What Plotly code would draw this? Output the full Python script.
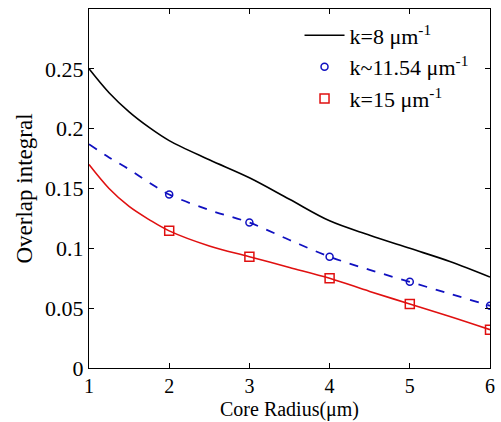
import plotly.graph_objects as go

# curve samples
x_curve = [1, 1.25, 1.5, 1.75, 2, 2.5, 3, 3.5, 4, 4.5, 5, 5.5, 6]
k8 = [0.250, 0.230, 0.214, 0.201, 0.190, 0.174, 0.159, 0.141, 0.123, 0.111, 0.100, 0.089, 0.076]
k1154 = [0.187, 0.176, 0.166, 0.155, 0.145, 0.132, 0.1215, 0.107, 0.093, 0.082, 0.072, 0.062, 0.052]
k15 = [0.170, 0.150, 0.135, 0.124, 0.1146, 0.102, 0.093, 0.084, 0.075, 0.064, 0.0535, 0.043, 0.032]

# marker points
x_mark = [2, 3, 4, 5, 6]
k1154_mark = [0.145, 0.1215, 0.093, 0.072, 0.052]
k15_mark = [0.1146, 0.093, 0.075, 0.0535, 0.032]

x_ticks = [1, 2, 3, 4, 5, 6]
y_ticks = [0, 0.05, 0.1, 0.15, 0.2, 0.25]
y_ticklabels = ["0", "0.05", "0.1", "0.15", "0.2", "0.25"]

BLUE = "#1010C0"
RED = "#E01010"
FONT = "Liberation Serif, Times New Roman, serif"

fig = go.Figure()
fig.add_trace(go.Scatter(x=x_curve, y=k8, mode="lines", line=dict(color="black", width=1.6, shape="spline"),
                         name="k=8 μm<sup>-1</sup>"))
fig.add_trace(go.Scatter(x=x_curve, y=k1154, mode="lines", line=dict(color=BLUE, width=1.8, dash="dash", shape="spline"),
                         showlegend=False))
fig.add_trace(go.Scatter(x=x_curve, y=k15, mode="lines", line=dict(color=RED, width=1.6, shape="spline"),
                         showlegend=False))
fig.add_trace(go.Scatter(x=x_mark, y=k1154_mark, mode="markers",
                         marker=dict(symbol="circle-open", size=7, color=BLUE, line=dict(width=1.5)),
                         name="k~11.54 μm<sup>-1</sup>"))
fig.add_trace(go.Scatter(x=x_mark, y=k15_mark, mode="markers",
                         marker=dict(symbol="square-open", size=9, color=RED, line=dict(width=1.5)),
                         name="k=15 μm<sup>-1</sup>"))

axis_common = dict(showline=True, linecolor="black", linewidth=1, mirror="ticks", ticks="inside",
                   ticklen=5, tickcolor="black", showgrid=False, zeroline=False)

fig.update_layout(
    width=501, height=422,
    margin=dict(l=89, r=6, t=9, b=54),
    paper_bgcolor="white", plot_bgcolor="white",
    font=dict(family=FONT, size=22, color="black"),
    xaxis=dict(range=[1, 6], tickvals=x_ticks, tickfont=dict(family=FONT, size=20, color="black"),
               **axis_common),
    yaxis=dict(range=[0, 0.3], tickvals=y_ticks, ticktext=y_ticklabels,
               tickfont=dict(family=FONT, size=22, color="black"),
               title=dict(text="Overlap integral", standoff=6, font=dict(family=FONT, size=23)), **axis_common),
    legend=dict(x=0.525, y=0.985, xanchor="left", yanchor="top", bgcolor="rgba(0,0,0,0)",
                font=dict(family=FONT, size=22), tracegroupgap=0, itemwidth=40),
    showlegend=True,
    annotations=[dict(text="Core Radius(μm)", xref="paper", yref="paper", x=0.5, y=-0.151,
                      xanchor="center", yanchor="bottom", showarrow=False, borderpad=0,
                      font=dict(family=FONT, size=20, color="black"))],
)

fig.write_html("out.html")
